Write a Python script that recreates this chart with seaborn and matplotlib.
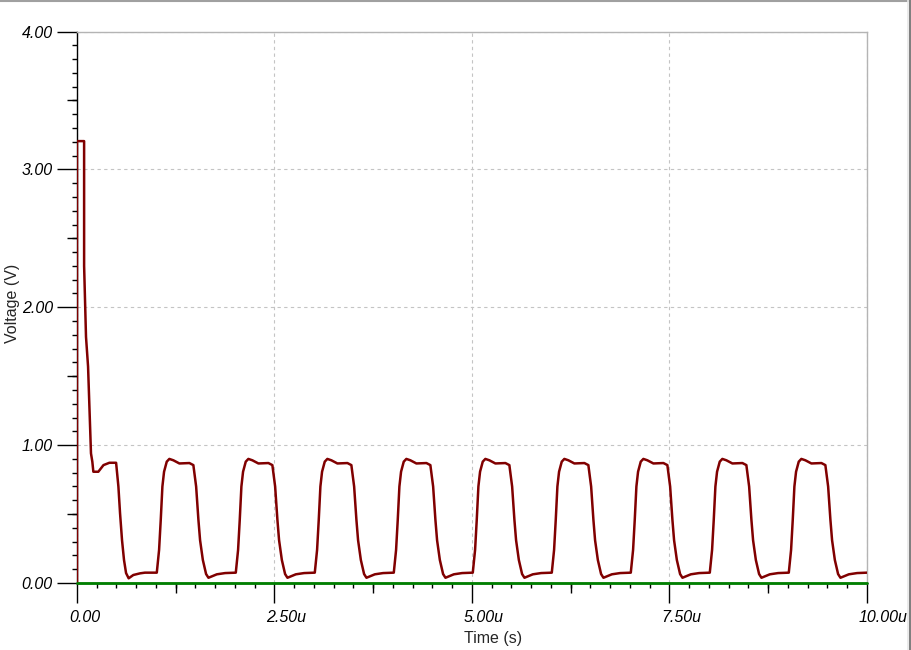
import matplotlib

matplotlib.use("Agg")
import matplotlib.pyplot as plt
import numpy as np
import pandas as pd
import seaborn as sns
from matplotlib.lines import Line2D
from matplotlib.ticker import FixedLocator, MultipleLocator
from matplotlib.transforms import ScaledTranslation

# start-up transient (time in us, voltage in V)
startup_time = [0.0, 0.0, 0.09, 0.09, 0.114, 0.14, 0.156, 0.165, 0.177, 0.194, 0.207,
                0.27, 0.335, 0.41, 0.495, 0.524, 0.545, 0.570, 0.595, 0.621, 0.654,
                0.713, 0.798, 0.86, 1.0]
startup_volt = [0.0, 3.205, 3.205, 2.30, 1.785, 1.57, 1.30, 1.16, 0.94, 0.88, 0.807,
                0.807, 0.855, 0.872, 0.872, 0.70, 0.505, 0.31, 0.167, 0.072, 0.034,
                0.058, 0.07, 0.075, 0.075]

# one steady-state pulse, time measured from the start of its cycle
pulse_time = [0.010, 0.039, 0.060, 0.081, 0.102, 0.136, 0.169, 0.220, 0.296, 0.423,
              0.473, 0.508, 0.537, 0.558, 0.593, 0.634, 0.664, 0.770, 0.875, 1.0]
pulse_volt = [0.075, 0.24, 0.457, 0.70, 0.807, 0.88, 0.90, 0.89, 0.867, 0.87,
              0.855, 0.70, 0.457, 0.31, 0.167, 0.065, 0.038, 0.063, 0.072, 0.075]
cycle_start = [1, 2, 3, 4, 5, 6, 7, 8, 9]

ground_time = [0.0, 10.0]
ground_volt = [0.0, 0.0]

x_ticks = [0.0, 2.5, 5.0, 7.5, 10.0]
x_labels = ["0.00", "2.50u", "5.00u", "7.50u", "10.00u"]
y_ticks = [0.0, 1.0, 2.0, 3.0, 4.0]
y_labels = ["0.00", "1.00", "2.00", "3.00", "4.00"]

RED = "#800000"
GREEN = "#008000"
GRID = "#c4c4c4"

times = list(startup_time)
volts = list(startup_volt)
for start in cycle_start:
    times += [start + dt for dt in pulse_time]
    volts += pulse_volt
out_df = pd.DataFrame({"time": times, "volt": volts})
gnd_df = pd.DataFrame({"time": ground_time, "volt": ground_volt})

sns.set_style("white")
plt.rcParams["font.family"] = ["Liberation Sans", "DejaVu Sans"]

fig = plt.figure(figsize=(9.12, 6.5), dpi=100)
ax = fig.add_axes([77 / 912, 1 - 583 / 650, 790 / 912, 551.5 / 650])

sns.lineplot(data=out_df, x="time", y="volt", estimator=None, sort=False,
             color=RED, linewidth=1.8, ax=ax, zorder=3)
sns.lineplot(data=gnd_df, x="time", y="volt", estimator=None, sort=False,
             color=GREEN, linewidth=2.0, ax=ax, zorder=4, clip_on=False)

ax.set_xlim(0, 10)
ax.set_ylim(0, 4)

ax.set_xticks(x_ticks)
ax.set_xticklabels(x_labels, fontstyle="italic", fontsize=11.5)
ax.set_yticks(y_ticks)
ax.set_yticklabels(y_labels, fontstyle="italic", fontsize=11.5)
ax.xaxis.set_minor_locator(MultipleLocator(0.25))
ax.yaxis.set_minor_locator(MultipleLocator(0.1))
ax.tick_params(which="both", bottom=True, left=True, top=False, right=False,
               direction="out", width=1.0, color="black", labelcolor="black")
ax.tick_params(which="major", length=14.4)
ax.tick_params(which="minor", length=3.6)
ax.tick_params(axis="x", which="major", pad=5)
ax.tick_params(axis="y", which="major", pad=3)

# time labels start a little left of their tick
shift = ScaledTranslation(-8 / 100, 0, fig.dpi_scale_trans)
for label in ax.get_xticklabels():
    label.set_horizontalalignment("left")
    label.set_transform(label.get_transform() + shift)

# medium ticks at the half-way points
sec_x = ax.secondary_xaxis("bottom")
sec_x.xaxis.set_major_locator(FixedLocator([1.25, 3.75, 6.25, 8.75]))
sec_x.tick_params(bottom=True, length=7.2, width=1.0, color="black", labelbottom=False)
sec_x.spines["bottom"].set_visible(False)
sec_y = ax.secondary_yaxis("left")
sec_y.yaxis.set_major_locator(FixedLocator([0.5, 1.5, 2.5, 3.5]))
sec_y.tick_params(left=True, length=7.2, width=1.0, color="black", labelleft=False)
sec_y.spines["left"].set_visible(False)

ax.grid(True, which="major", color=GRID, linestyle=(0, (3, 3)), linewidth=0.8)
for side in ["top", "right"]:
    ax.spines[side].set_color("#b4b4b4")
    ax.spines[side].set_linewidth(1.0)
for side in ["left", "bottom"]:
    ax.spines[side].set_color("black")
    ax.spines[side].set_linewidth(1.0)

ax.set_xlabel("Time (s)", fontsize=11.5)
ax.set_ylabel("Voltage (V)", fontsize=11.5)
ax.xaxis.label.set_va("center")
ax.yaxis.label.set_va("center")
ax.xaxis.set_label_coords((493 - 77) / 790, (583 - 638) / 551.5)
ax.yaxis.set_label_coords((12 - 77) / 790, (583 - 303) / 551.5)

# window frame
fig.add_artist(Line2D([0, 1], [1 - 1 / 650, 1 - 1 / 650], transform=fig.transFigure,
                      color="#a0a0a0", linewidth=1.5))
fig.add_artist(Line2D([1 - 2 / 912, 1 - 2 / 912], [0, 1], transform=fig.transFigure,
                      color="#808080", linewidth=1.5))
fig.add_artist(Line2D([1 - 3.5 / 912, 1 - 3.5 / 912], [0, 1], transform=fig.transFigure,
                      color="#e8e8e8", linewidth=1.2))

fig.savefig("out.png", dpi=100)
